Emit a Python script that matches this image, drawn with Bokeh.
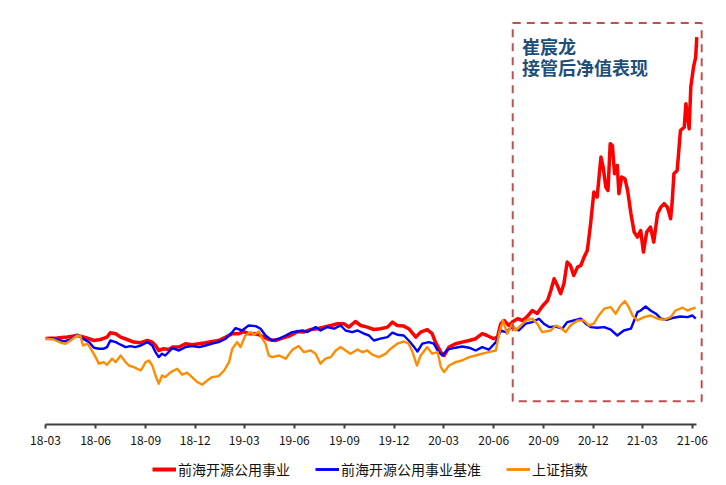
import pandas as pd
from bokeh.plotting import figure
from bokeh.layouts import column
from bokeh.models import Range1d, FixedTicker, BoxAnnotation, Label, Legend, LegendItem, DatetimeTickFormatter
from bokeh.embed import file_html
from bokeh.resources import INLINE

# ---------------- data (normalised NAV, start = 1.0) ----------------
fund_dates = ["2018-03-01","2018-03-22","2018-04-10","2018-04-28","2018-05-04","2018-05-17","2018-05-29","2018-06-10","2018-06-22","2018-06-28",
"2018-07-08","2018-07-17","2018-07-29","2018-08-10","2018-08-23","2018-09-04","2018-09-13","2018-09-19","2018-09-25","2018-10-04",
"2018-10-14","2018-10-20","2018-11-01","2018-11-13","2018-11-25","2018-12-08","2018-12-20","2019-01-01","2019-01-13","2019-01-26",
"2019-02-07","2019-02-19","2019-02-28","2019-03-09","2019-03-19","2019-03-28","2019-04-06","2019-04-15","2019-04-27","2019-05-10",
"2019-05-22","2019-05-31","2019-06-06","2019-06-18","2019-07-01","2019-07-13","2019-07-25","2019-08-07","2019-08-19","2019-08-31",
"2019-09-09","2019-09-21","2019-10-01","2019-10-13","2019-10-25","2019-11-06","2019-11-19","2019-11-28","2019-12-07","2019-12-19",
"2019-12-28","2020-01-10","2020-01-19","2020-01-31","2020-02-09","2020-02-15","2020-02-25","2020-03-02","2020-03-11","2020-03-23",
"2020-04-04","2020-04-17","2020-04-29","2020-05-11","2020-05-20","2020-06-01","2020-06-08","2020-06-14","2020-06-20","2020-06-29",
"2020-07-05","2020-07-15","2020-07-24","2020-08-02","2020-08-11","2020-08-20","2020-08-29","2020-09-08","2020-09-14","2020-09-20",
"2020-09-26","2020-10-02","2020-10-08","2020-10-14","2020-10-20","2020-10-26","2020-11-02","2020-11-08","2020-11-14","2020-11-20",
"2020-11-26","2020-12-02","2020-12-08","2020-12-15","2020-12-19","2020-12-24","2020-12-28","2021-01-01","2021-01-05","2021-01-09",
"2021-01-14","2021-01-17","2021-01-22","2021-01-28","2021-02-02","2021-02-08","2021-02-14","2021-02-20","2021-02-26","2021-03-03",
"2021-03-09","2021-03-16","2021-03-22","2021-03-29","2021-04-04","2021-04-10","2021-04-16","2021-04-22","2021-04-25","2021-04-28",
"2021-05-04","2021-05-10","2021-05-17","2021-05-20","2021-05-26","2021-05-29","2021-06-03","2021-06-07","2021-06-09"]
fund_nav = [1.000,1.002,1.007,1.015,1.012,1.002,0.990,0.995,1.007,1.029,
1.024,1.007,0.995,0.982,0.979,0.990,0.982,0.965,0.940,0.949,
0.945,0.957,0.957,0.974,0.969,0.974,0.979,0.985,0.990,1.007,
1.024,1.024,1.035,1.024,1.024,1.019,1.007,0.995,0.990,1.002,
1.012,1.024,1.035,1.032,1.045,1.049,1.057,1.065,1.074,1.074,
1.057,1.085,1.065,1.057,1.045,1.049,1.057,1.082,1.065,1.062,
1.049,1.007,1.032,1.044,1.024,0.982,0.932,0.915,0.957,0.974,
0.982,0.990,0.999,1.024,1.015,0.999,1.007,1.074,1.090,1.065,
1.082,1.099,1.090,1.111,1.140,1.125,1.160,1.190,1.240,1.299,
1.265,1.224,1.274,1.382,1.365,1.315,1.357,1.365,1.407,1.440,
1.574,1.732,1.707,1.907,1.857,1.757,1.740,1.974,1.965,1.824,
1.865,1.724,1.807,1.799,1.740,1.625,1.532,1.507,1.540,1.432,
1.532,1.557,1.482,1.624,1.657,1.674,1.657,1.599,1.690,1.824,
1.840,2.040,2.057,2.174,2.049,2.257,2.357,2.407,2.507]

bench_dates = ["2018-03-01","2018-03-10","2018-03-22","2018-04-04","2018-04-16","2018-04-28","2018-05-07","2018-05-20","2018-05-29","2018-06-07",
"2018-06-16","2018-06-22","2018-06-28","2018-07-08","2018-07-17","2018-07-26","2018-08-04","2018-08-13","2018-08-23","2018-09-04",
"2018-09-13","2018-09-19","2018-09-25","2018-10-01","2018-10-07","2018-10-20","2018-11-01","2018-11-13","2018-11-25","2018-12-08",
"2018-12-20","2019-01-01","2019-01-13","2019-01-26","2019-02-07","2019-02-13","2019-02-25","2019-03-09","2019-03-22","2019-03-31",
"2019-04-09","2019-04-21","2019-05-04","2019-05-16","2019-05-28","2019-06-06","2019-06-16","2019-06-25","2019-07-10","2019-07-19",
"2019-07-31","2019-08-13","2019-08-25","2019-09-03","2019-09-15","2019-09-25","2019-10-07","2019-10-16","2019-10-25","2019-11-06",
"2019-11-19","2019-11-28","2019-12-07","2019-12-19","2019-12-28","2020-01-07","2020-01-13","2020-01-22","2020-02-03","2020-02-12",
"2020-02-21","2020-02-28","2020-03-08","2020-03-23","2020-04-04","2020-04-17","2020-04-29","2020-05-11","2020-05-23","2020-06-05",
"2020-06-14","2020-06-23","2020-07-05","2020-07-17","2020-07-30","2020-08-11","2020-08-23","2020-09-01","2020-09-11","2020-09-23",
"2020-10-05","2020-10-14","2020-10-26","2020-11-08","2020-11-17","2020-11-26","2020-12-08","2020-12-21","2021-01-02","2021-01-14",
"2021-01-26","2021-02-08","2021-02-14","2021-02-20","2021-02-26","2021-03-07","2021-03-16","2021-03-26","2021-04-04","2021-04-16",
"2021-04-28","2021-05-10","2021-05-23","2021-06-01","2021-06-07"]
bench_nav = [1.000,1.002,0.995,0.985,0.995,1.019,1.002,0.982,0.954,0.949,
0.949,0.957,0.990,0.982,0.969,0.957,0.962,0.957,0.965,0.982,
0.965,0.932,0.907,0.924,0.915,0.952,0.940,0.957,0.962,0.957,
0.965,0.974,0.982,0.999,1.032,1.052,1.040,1.065,1.062,1.049,
1.015,0.990,0.999,1.015,1.032,1.035,1.040,1.032,1.057,1.040,
1.057,1.049,1.065,1.040,1.032,1.040,1.024,1.015,0.990,0.999,
1.007,1.029,1.019,1.015,0.990,0.957,0.935,0.974,0.982,0.974,
0.932,0.915,0.944,0.954,0.960,0.954,0.940,0.957,0.944,0.982,
1.040,1.032,1.057,1.040,1.074,1.082,1.099,1.074,1.057,1.060,
1.049,1.082,1.090,1.099,1.074,1.057,1.054,1.057,1.044,1.015,
1.040,1.049,1.090,1.132,1.140,1.160,1.140,1.124,1.099,1.094,
1.104,1.110,1.107,1.115,1.099]

sh_dates = ["2018-03-01","2018-03-16","2018-03-29","2018-04-07","2018-04-16","2018-04-28","2018-05-04","2018-05-09","2018-05-17","2018-05-23",
"2018-06-01","2018-06-07","2018-06-16","2018-06-22","2018-07-01","2018-07-08","2018-07-17","2018-07-26","2018-08-01","2018-08-10",
"2018-08-23","2018-09-01","2018-09-07","2018-09-13","2018-09-19","2018-09-25","2018-10-01","2018-10-07","2018-10-17","2018-10-29",
"2018-11-07","2018-11-16","2018-11-25","2018-12-05","2018-12-14","2018-12-23","2019-01-01","2019-01-13","2019-01-23","2019-02-01",
"2019-02-07","2019-02-16","2019-02-22","2019-03-03","2019-03-13","2019-03-19","2019-03-28","2019-04-03","2019-04-09","2019-04-15",
"2019-04-21","2019-05-04","2019-05-16","2019-05-25","2019-05-31","2019-06-09","2019-06-18","2019-07-01","2019-07-10","2019-07-19",
"2019-07-28","2019-08-07","2019-08-16","2019-08-25","2019-09-03","2019-09-12","2019-09-25","2019-10-04","2019-10-13","2019-10-22",
"2019-11-03","2019-11-16","2019-11-25","2019-12-07","2019-12-19","2019-12-28","2020-01-04","2020-01-12","2020-01-19","2020-01-31",
"2020-02-09","2020-02-19","2020-02-25","2020-03-02","2020-03-11","2020-03-23","2020-04-04","2020-04-17","2020-04-29","2020-05-11",
"2020-05-23","2020-06-05","2020-06-11","2020-06-18","2020-06-26","2020-07-05","2020-07-11","2020-07-21","2020-07-30","2020-08-11",
"2020-08-20","2020-08-29","2020-09-14","2020-09-23","2020-10-02","2020-10-11","2020-10-20","2020-11-02","2020-11-14","2020-11-23",
"2020-12-02","2020-12-11","2020-12-21","2021-01-02","2021-01-11","2021-01-20","2021-01-28","2021-02-04","2021-02-11","2021-02-20",
"2021-03-04","2021-03-16","2021-03-29","2021-04-10","2021-04-22","2021-05-01","2021-05-14","2021-05-23","2021-06-01","2021-06-07"]
sh_nav = [1.000,0.995,0.979,0.974,0.990,1.015,1.012,0.965,0.974,0.949,
0.907,0.874,0.882,0.869,0.899,0.882,0.915,0.882,0.865,0.857,
0.840,0.882,0.890,0.865,0.815,0.774,0.815,0.807,0.832,0.849,
0.819,0.829,0.807,0.782,0.769,0.790,0.807,0.812,0.840,0.882,
0.949,0.982,0.957,1.015,1.032,1.019,1.035,0.999,0.974,0.915,
0.907,0.915,0.899,0.932,0.949,0.962,0.932,0.940,0.924,0.874,
0.899,0.907,0.940,0.957,0.940,0.924,0.945,0.932,0.940,0.919,
0.907,0.924,0.949,0.974,0.985,0.974,0.932,0.865,0.915,0.957,
0.924,0.932,0.857,0.832,0.865,0.882,0.890,0.907,0.915,0.924,
0.932,0.940,1.024,1.090,1.024,1.074,1.040,1.065,1.090,1.099,
1.074,1.032,1.040,1.065,1.054,1.032,1.065,1.090,1.090,1.065,
1.074,1.115,1.149,1.157,1.124,1.165,1.187,1.157,1.115,1.090,
1.107,1.115,1.099,1.094,1.107,1.140,1.154,1.140,1.149,1.154]

series_names = ["前海开源公用事业", "前海开源公用事业基准", "上证指数"]
series_colors = ["#FF0000", "#0000FF", "#FF8C00"]

tick_dates = ["2018-03-01","2018-06-01","2018-09-01","2018-12-01","2019-03-01","2019-06-01","2019-09-01",
              "2019-12-01","2020-03-01","2020-06-01","2020-09-01","2020-12-01","2021-03-01","2021-06-01"]
tick_labels = ["18-03","18-06","18-09","18-12","19-03","19-06","19-09",
               "19-12","20-03","20-06","20-09","20-12","21-03","21-06"]

takeover_start = "2020-07-06"
takeover_end = "2021-06-18"
note_lines = ["崔宸龙", "接管后净值表现"]

FONT = "Noto Sans CJK SC"


def ms(s):
    return pd.Timestamp(s).value / 1e6


# ---------------- main chart ----------------
p = figure(width=718, height=454, x_axis_type="datetime", y_axis_location=None,
           output_backend="svg", toolbar_location=None,
           x_range=Range1d(ms("2018-03-01"), ms("2021-06-25")), y_range=Range1d(0.57, 2.60),
           min_border_left=45, min_border_right=13, min_border_top=18, min_border_bottom=30)
p.outline_line_color = None
p.xgrid.visible = False
p.ygrid.visible = False
p.background_fill_color = "white"
p.border_fill_color = "white"

widths = [3.5, 2.4, 2.4]
for d, v, c, w in zip([fund_dates, bench_dates, sh_dates], [fund_nav, bench_nav, sh_nav], series_colors, widths):
    p.line(pd.to_datetime(d), v, line_color=c, line_width=w, line_join="round")

xa = p.xaxis[0]
xa.ticker = FixedTicker(ticks=[ms(t) for t in tick_dates])
xa.formatter = DatetimeTickFormatter(months="%y-%m", days="%y-%m", years="%y-%m")
xa.major_label_overrides = {ms(t): l for t, l in zip(tick_dates, tick_labels)}
xa.bounds = (ms("2018-03-01"), ms("2021-06-08"))
xa.axis_line_color = "#404040"
xa.axis_line_width = 2
xa.major_tick_line_color = "#404040"
xa.major_tick_line_width = 2
xa.major_tick_in = 0
xa.major_tick_out = 4
xa.minor_tick_line_color = None
xa.major_label_standoff = 7
xa.major_label_text_font = FONT
xa.major_label_text_font_size = "12px"
xa.major_label_text_color = "#111111"

box = BoxAnnotation(left=ms(takeover_start), right=ms(takeover_end), bottom=0.6865, top=2.577,
                    fill_alpha=0, line_color="#C0504D", line_alpha=1.0, line_width=2, line_dash="8 6")
p.add_layout(box)

for i, t in enumerate(note_lines):
    p.add_layout(Label(x=ms("2020-07-23"), y=2.53 - i * 0.105, text=t, text_font=FONT,
                       text_font_style="bold", text_font_size="18px", text_color="#1F4E79",
                       text_baseline="top", text_align="left"))

# ---------------- legend strip ----------------
lg = figure(width=718, height=30, x_axis_location=None, y_axis_location=None,
            output_backend="svg", toolbar_location=None,
            x_range=Range1d(0, 1), y_range=Range1d(0, 1),
            min_border_left=0, min_border_right=0, min_border_top=0, min_border_bottom=0)
lg.outline_line_color = None
lg.xgrid.visible = False
lg.ygrid.visible = False
items = []
for n, c, w in zip(series_names, series_colors, widths):
    # lines kept outside the visible range: they only supply the legend swatch
    r = lg.line([5, 6], [5, 5], line_color=c, line_width=w + 0.5)
    items.append(LegendItem(label=n, renderers=[r]))
legend = Legend(items=items, orientation="horizontal", location=(107, 5), label_text_font=FONT,
                label_text_font_size="14px", label_text_color="#111111",
                glyph_width=24, glyph_height=20, label_height=20, label_standoff=2,
                spacing=25, padding=0, margin=0, border_line_color=None, background_fill_alpha=0)
lg.add_layout(legend, "center")

layout = column(p, lg, spacing=0)
open("out.html", "w").write(file_html(layout, INLINE))
